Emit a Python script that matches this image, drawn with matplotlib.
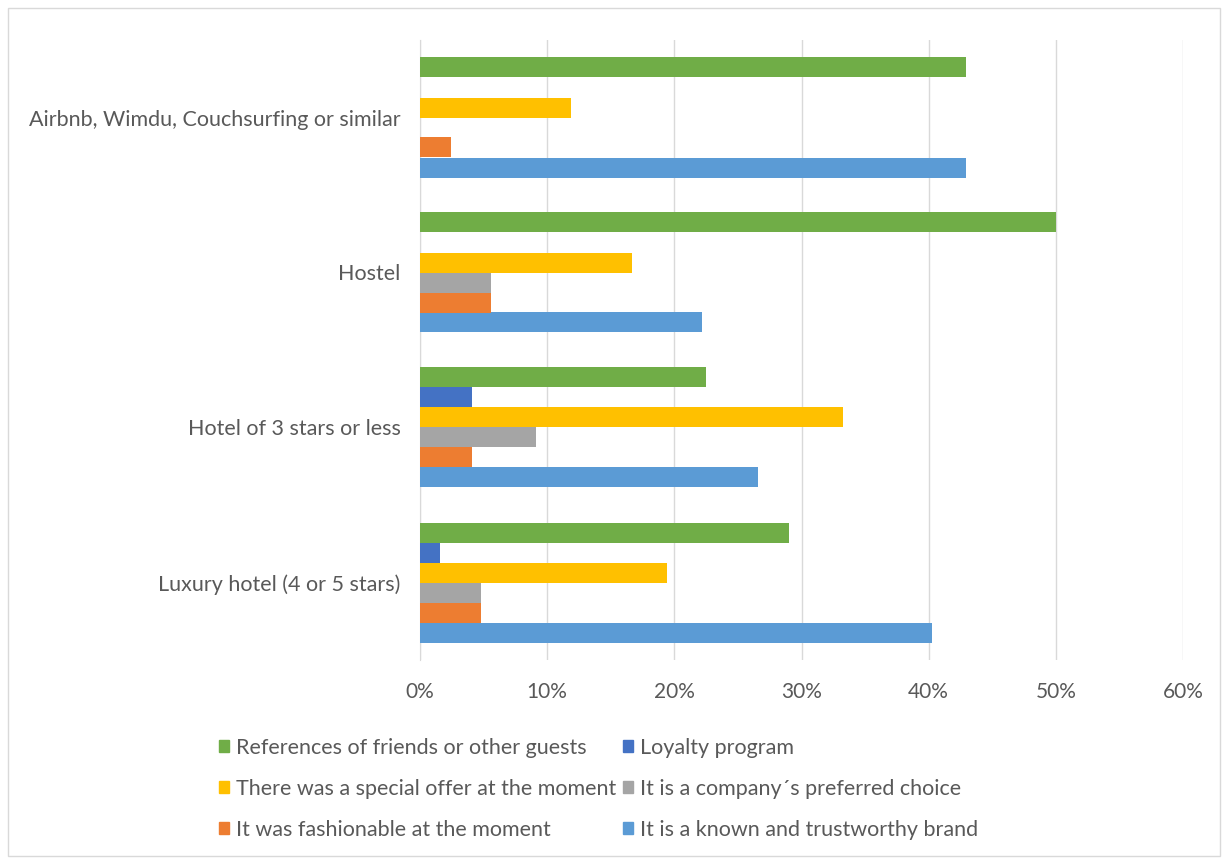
import matplotlib
matplotlib.use("Agg")
import matplotlib.pyplot as plt
from matplotlib.patches import Rectangle, Patch
from matplotlib.ticker import PercentFormatter
import numpy as np

plt.rcParams['font.family'] = ['Lato', 'DejaVu Sans']

categories = [
    "Luxury hotel (4 or 5 stars)",
    "Hotel of 3 stars or less",
    "Hostel",
    "Airbnb, Wimdu, Couchsurfing or similar",
]

# Series listed bottom-to-top within each group
series_names = [
    "It is a known and trustworthy brand",
    "It was fashionable at the moment",
    "It is a company\u00b4s preferred choice",
    "There was a special offer at the moment",
    "Loyalty program",
    "References of friends or other guests",
]
known_brand = [40.3, 26.6, 22.2, 42.9]
fashionable = [4.8, 4.1, 5.6, 2.4]
company_choice = [4.8, 9.1, 5.6, 0.0]
special_offer = [19.4, 33.3, 16.7, 11.9]
loyalty = [1.6, 4.1, 0.0, 0.0]
references = [29.0, 22.5, 50.0, 42.9]

series_values = [known_brand, fashionable, company_choice,
                 special_offer, loyalty, references]
colors = ["#5B9BD5", "#ED7D31", "#A5A5A5", "#FFC000", "#4472C4", "#70AD47"]

text_color = "#595959"
grid_color = "#D9D9D9"

fig = plt.figure(figsize=(12.28, 8.64), dpi=100)
ax = fig.add_axes([420 / 1228, 1 - 660 / 864, (1183 - 420) / 1228, (660 - 40) / 864])

y = np.arange(len(categories))
bar_h = 20 / 155
n = len(series_values)
for i, (vals, col) in enumerate(zip(series_values, colors)):
    offset = (i - (n - 1) / 2) * bar_h
    ax.barh(y + offset, vals, height=bar_h, color=col, label=series_names[i], zorder=3)

ax.set_xlim(0, 60)
ax.set_ylim(-0.5, len(categories) - 0.5)
ax.set_xticks(np.arange(0, 61, 10))
ax.xaxis.set_major_formatter(PercentFormatter(decimals=0))
ax.set_yticks(y)
ax.set_yticklabels(categories)
ax.grid(axis='x', color=grid_color, linewidth=1, zorder=0)
ax.tick_params(axis='y', length=0, labelsize=15.5, colors=text_color, pad=14)
ax.tick_params(axis='x', length=0, labelsize=15, colors=text_color, pad=16)
for s in ['top', 'right', 'bottom']:
    ax.spines[s].set_visible(False)
ax.spines['left'].set_color(grid_color)

# Legend: filled column by column, laid out as three rows of two
handles = {name: Patch(color=c) for name, c in zip(series_names, colors)}
order = [5, 3, 1, 4, 2, 0]
leg = fig.legend([handles[series_names[k]] for k in order],
                 [series_names[k] for k in order],
                 ncol=2, loc='upper left', bbox_to_anchor=(210 / 1228, 1 - 729 / 864),
                 frameon=False, fontsize=15.5, labelcolor=text_color,
                 handlelength=0.5, handleheight=0.5, handletextpad=0.3,
                 columnspacing=0.3, labelspacing=0.98, borderaxespad=0)

# Thin frame around the chart area
fig.add_artist(Rectangle((8 / 1228, 8 / 864), 1212 / 1228, 848 / 864,
                         transform=fig.transFigure, fill=False,
                         edgecolor=grid_color, linewidth=1))

fig.savefig("out.png", dpi=100)
